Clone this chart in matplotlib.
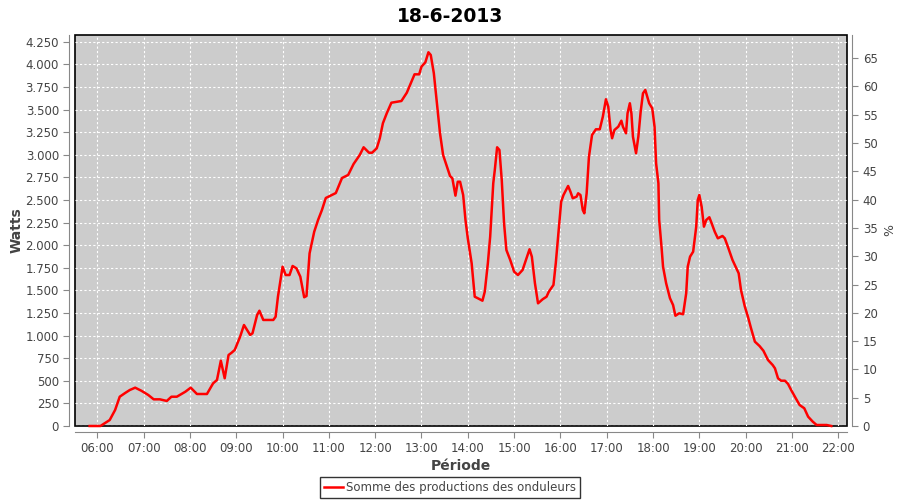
import pandas as pd
import matplotlib
matplotlib.use("Agg")
import matplotlib.pyplot as plt
import matplotlib.dates as mdates
from matplotlib.ticker import FuncFormatter, MultipleLocator

# somme des productions (W)
heures = ["05:50", "06:04", "06:08", "06:16", "06:23", "06:29", "06:36", "06:42", "06:49", "06:57",
          "07:06", "07:13", "07:21", "07:30", "07:36", "07:43", "07:54", "08:01", "08:09", "08:22",
          "08:30", "08:35", "08:40", "08:45", "08:50", "08:54", "08:58", "09:05", "09:10", "09:18",
          "09:21", "09:27", "09:30", "09:35", "09:48", "09:51", "09:54", "10:00", "10:04", "10:09",
          "10:13", "10:18", "10:23", "10:28", "10:31", "10:35", "10:41", "10:46", "10:51", "10:56",
          "11:09", "11:17", "11:25", "11:32", "11:40", "11:45", "11:52", "11:56", "12:02", "12:06",
          "12:10", "12:15", "12:21", "12:34", "12:41", "12:47", "12:51", "12:57", "13:00", "13:05",
          "13:09", "13:12", "13:16", "13:20", "13:24", "13:28", "13:33", "13:37", "13:40", "13:44",
          "13:47", "13:50", "13:54", "13:57", "14:00", "14:05", "14:09", "14:13", "14:19", "14:22",
          "14:26", "14:29", "14:33", "14:35", "14:38", "14:41", "14:44", "14:47", "14:50", "14:55",
          "15:00", "15:05", "15:11", "15:16", "15:20", "15:23", "15:27", "15:31", "15:37", "15:42",
          "15:45", "15:51", "15:54", "15:57", "16:01", "16:04", "16:10", "16:13", "16:16", "16:21",
          "16:23", "16:26", "16:29", "16:31", "16:34", "16:37", "16:41", "16:46", "16:51", "16:55",
          "16:59", "17:02", "17:05", "17:07", "17:10", "17:15", "17:19", "17:21", "17:25", "17:27",
          "17:30", "17:32", "17:34", "17:38", "17:41", "17:44", "17:47", "17:50", "17:55", "17:59",
          "18:02", "18:04", "18:07", "18:08", "18:11", "18:13", "18:17", "18:22", "18:26", "18:29",
          "18:34", "18:39", "18:43", "18:45", "18:48", "18:52", "18:56", "18:58", "19:00", "19:03",
          "19:06", "19:09", "19:13", "19:16", "19:20", "19:24", "19:30", "19:33", "19:37", "19:43",
          "19:48", "19:51", "19:54", "19:59", "20:03", "20:07", "20:12", "20:18", "20:23", "20:29",
          "20:35", "20:38", "20:42", "20:46", "20:51", "20:55", "20:59", "21:05", "21:10", "21:16",
          "21:21", "21:27", "21:32", "21:45", "21:51"]
watts = [0, 0, 22, 66, 177, 324, 365, 398, 424, 390,
         343, 295, 295, 277, 324, 324, 379, 424, 354, 354,
         472, 509, 722, 528, 785, 811, 841, 988, 1117, 1007,
         1025, 1228, 1275, 1173, 1173, 1209, 1430, 1762, 1670, 1670,
         1770, 1744, 1652, 1424, 1438, 1910, 2149, 2279, 2389, 2522,
         2577, 2743, 2777, 2898, 2998, 3083, 3023, 3023, 3072, 3183,
         3349, 3459, 3576, 3595, 3687, 3809, 3890, 3890, 3975, 4023,
         4134, 4104, 3902, 3570, 3238, 2998, 2868, 2765, 2740, 2548,
         2702, 2702, 2555, 2279, 2076, 1800, 1430, 1413, 1386, 1486,
         1800, 2094, 2685, 2832, 3083, 3053, 2721, 2242, 1947, 1836,
         1707, 1670, 1726, 1855, 1955, 1873, 1579, 1357, 1402, 1430,
         1486, 1560, 1800, 2094, 2481, 2555, 2655, 2592, 2519, 2537,
         2574, 2555, 2389, 2353, 2574, 2979, 3219, 3282, 3282, 3422,
         3614, 3532, 3274, 3183, 3274, 3311, 3377, 3311, 3238, 3459,
         3570, 3459, 3200, 3017, 3200, 3477, 3680, 3717, 3570, 3514,
         3311, 2906, 2685, 2279, 1983, 1762, 1579, 1413, 1338, 1220,
         1247, 1236, 1468, 1762, 1873, 1928, 2205, 2500, 2555, 2426,
         2205, 2279, 2309, 2242, 2149, 2076, 2102, 2076, 1983, 1836,
         1744, 1689, 1504, 1320, 1209, 1081, 933, 885, 833, 730,
         675, 638, 527, 501, 501, 465, 398, 306, 232, 196,
         103, 48, 11, 11, 0]

jour = "2013-06-18"
t = pd.to_datetime([jour + " " + h for h in heures])

plt.rcParams['font.family'] = ['DejaVu Sans']
txt = "#444444"

fig = plt.figure(figsize=(9, 5), dpi=100)
ax = fig.add_axes([0.0833, 0.148, 0.8575, 0.782])
ax.set_facecolor("#cccccc")
ax.plot(t, watts, color="red", lw=1.8, label="Somme des productions des onduleurs",
        zorder=3, clip_on=False)

ax.set_xlim(pd.Timestamp(jour + " 05:31"), pd.Timestamp(jour + " 22:11"))
ax.set_ylim(0, 4325)
ax.yaxis.set_major_locator(MultipleLocator(250))
ax.yaxis.set_major_formatter(FuncFormatter(lambda v, p: f"{int(v):,}".replace(",", ".")))
ax.xaxis.set_major_locator(mdates.HourLocator())
ax.xaxis.set_major_formatter(mdates.DateFormatter("%H:%M"))
ax.grid(True, color="white", ls=(0, (2, 2)), lw=0.8)
ax.set_axisbelow(True)

ax2 = ax.twinx()
ax2.set_ylim(0, 69.1)
ax2.yaxis.set_major_locator(MultipleLocator(5))
ax2.set_ylabel("%", color=txt, fontsize=9)

for a in (ax, ax2):
    for s in a.spines.values():
        s.set_color("#888888")
        s.set_position(("outward", 4))
    a.spines["top"].set_visible(False)
    a.tick_params(colors="#888888", labelcolor=txt, labelsize=8.5, length=4, width=0.8)
ax.spines["right"].set_visible(False)
ax2.spines["left"].set_visible(False)
ax2.spines["bottom"].set_visible(False)

# cadre noir de la zone de tracé
ax.patch.set_edgecolor("black")
ax.patch.set_linewidth(1.2)

ax.set_ylabel("Watts", color=txt, fontsize=10, fontweight="bold")
ax.yaxis.set_label_coords(-0.066, 0.5)
ax.set_xlabel("Période", color=txt, fontsize=10, fontweight="bold", labelpad=3)
fig.suptitle("18-6-2013", fontsize=13.5, fontweight="bold", y=0.985)

leg = fig.legend(loc="center", bbox_to_anchor=(0.5, 0.025), fontsize=8.5, frameon=True,
                 fancybox=False, handlelength=1.6, borderpad=0.3, handletextpad=0.3)
leg.get_frame().set_edgecolor("black")
leg.get_frame().set_linewidth(1)
for tx in leg.get_texts():
    tx.set_color(txt)

fig.savefig("out.png", dpi=100)
